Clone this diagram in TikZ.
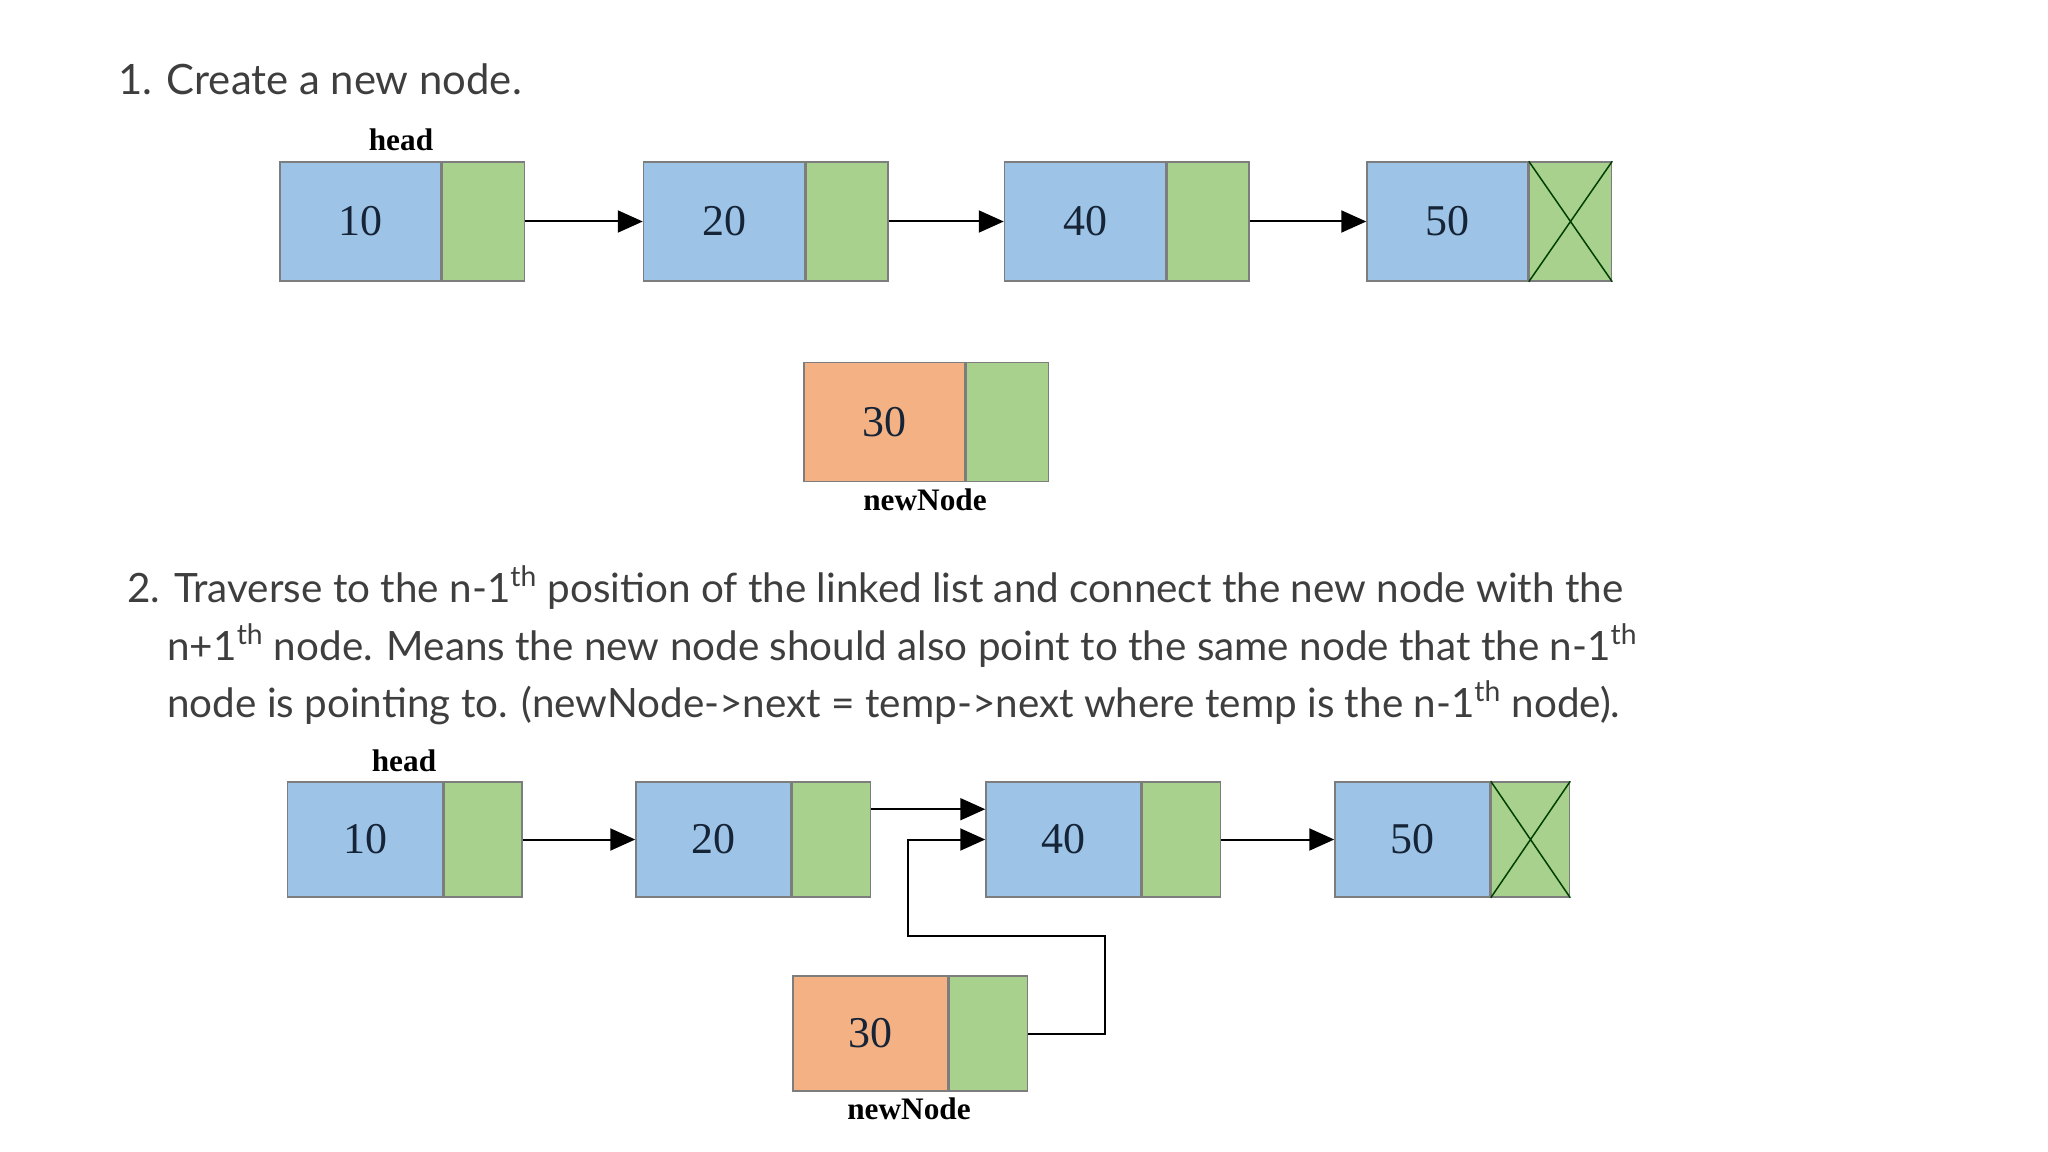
\documentclass[tikz,border=0pt]{standalone}
\usepackage{fontspec}
\setmainfont{Lato}
\newfontfamily\diagfont{Liberation Serif}
\usetikzlibrary{positioning,calc,arrows.meta}

\definecolor{cellblue}{RGB}{157,195,230}
\definecolor{cellgreen}{RGB}{169,209,142}
\definecolor{cellorange}{RGB}{244,177,131}
\definecolor{cellline}{RGB}{125,125,125}
\definecolor{numink}{RGB}{22,36,56}
\definecolor{bodyink}{RGB}{62,62,62}

\tikzset{
	cell/.style={draw=cellline, line width=0.3mm, inner sep=0pt, minimum height=23.8mm},
	datacell/.style={cell, fill=cellblue, minimum width=32.2mm, text=numink,
		font=\diagfont\fontsize{25}{25}\selectfont},
	ptrcell/.style={cell, fill=cellgreen, minimum width=16.4mm, anchor=west},
	tag/.style={font=\diagfont\bfseries\fontsize{17.8}{17.8}\selectfont},
	link/.style={-{Triangle[length=5mm,width=4.4mm]}, line width=0.4mm},
	steptext/.style={anchor=base west, inner sep=0pt, text=bodyink,
		font=\fontsize{23}{23}\selectfont},
}

\begin{document}
\begin{tikzpicture}[x=0.2mm, y=-0.2mm]
		\useasboundingbox (0,0) rectangle (2048,1152);

		% step 1
		\node[steptext, font=\fontsize{23.8}{23.8}\selectfont] (s1) at (118,95) {1. Create a new node.};

		\node[datacell] (a10) at (360.5,221.5) {10};
		\node[ptrcell] (pa10) at (a10.east) {};
		\node[datacell] (a20) at (724,221.5) {20};
		\node[ptrcell] (pa20) at (a20.east) {};
		\node[datacell] (a40) at (1085,221.5) {40};
		\node[ptrcell] (pa40) at (a40.east) {};
		\node[datacell] (a50) at (1447.5,221.5) {50};
		\node[ptrcell] (pa50) at (a50.east) {};
		\draw[line width=0.3mm, black!75!green] (pa50.north west) -- (pa50.south east)
			(pa50.south west) -- (pa50.north east);

		\node[datacell, fill=cellorange] (a30) at (884.5,422) {30};
		\node[ptrcell] (pa30) at (a30.east) {};

		\node[tag] (heada) at (401,140) {head};
		\node[tag] (newa) at (925,500) {newNode};

		\draw[link] (pa10.east) -- (a20.west);
		\draw[link] (pa20.east) -- (a40.west);
		\draw[link] (pa40.east) -- (a50.west);

		% step 2
		\node[steptext] (s2a) at (127,602) {2. Traverse to the n-1\textsuperscript{th} position of the linked list and connect the new node with the};
		\node[steptext] (s2b) at (167,660) {n+1\textsuperscript{th} node. Means the new node should also point to the same node that the n-1\textsuperscript{th}};
		\node[steptext] (s2c) at (167,717) {node is pointing to. (newNode->next = temp->next where temp is the n-1\textsuperscript{th} node).};

		\begin{scope}[datacell/.append style={minimum width=31mm, minimum height=23mm},
			ptrcell/.append style={minimum width=15.6mm, minimum height=23mm}]
		\node[datacell] (b10) at (365,839.5) {10};
		\node[ptrcell] (pb10) at (b10.east) {};
		\node[datacell] (b20) at (713.5,839.5) {20};
		\node[ptrcell] (pb20) at (b20.east) {};
		\node[datacell] (b40) at (1063.5,839.5) {40};
		\node[ptrcell] (pb40) at (b40.east) {};
		\node[datacell] (b50) at (1412.5,839.5) {50};
		\node[ptrcell] (pb50) at (b50.east) {};
		\draw[line width=0.3mm, black!75!green] (pb50.north west) -- (pb50.south east)
			(pb50.south west) -- (pb50.north east);

		\node[datacell, fill=cellorange] (b30) at (870.5,1033.5) {30};
		\node[ptrcell] (pb30) at (b30.east) {};
		\end{scope}

		\node[tag] (headb) at (404,761) {head};
		\node[tag] (newb) at (909,1109) {newNode};

		\draw[link] (pb10.east) -- (b20.west);
		\draw[link] ($(pb20.north east)!0.24!(pb20.south east)$) -- ($(b40.north west)!0.24!(b40.south west)$);
		\draw[link] (pb40.east) -- (b50.west);
		\draw[link] (pb30.east) -| ++(77,-98) -| ($(b40.west)+(-77,0)$) -- (b40.west);

	\end{tikzpicture}
\end{document}
